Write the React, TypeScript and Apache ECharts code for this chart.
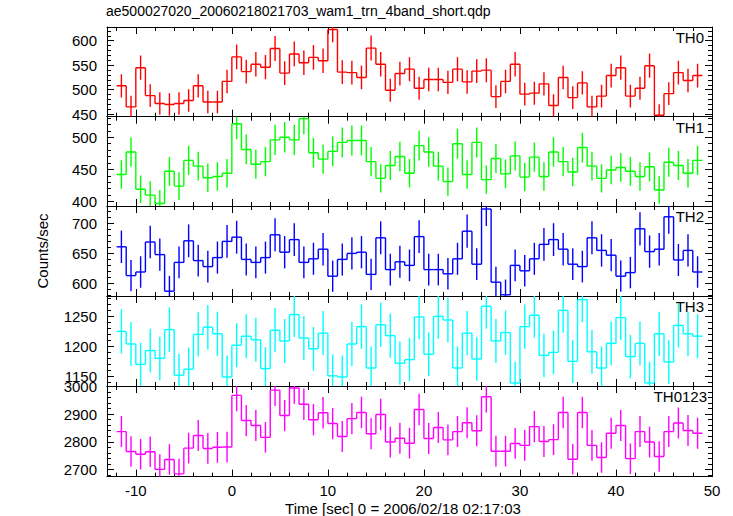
import React, { useEffect, useRef } from "react";
import * as echarts from "echarts";

// Bin centres (sec), 1-s bins from -12 to 49
const TIME: number[] = [
  -11.5, -10.5, -9.5, -8.5, -7.5, -6.5, -5.5, -4.5, -3.5, -2.5, -1.5, -0.5,
  0.5, 1.5, 2.5, 3.5, 4.5, 5.5, 6.5, 7.5, 8.5, 9.5, 10.5, 11.5, 12.5, 13.5,
  14.5, 15.5, 16.5, 17.5, 18.5, 19.5, 20.5, 21.5, 22.5, 23.5, 24.5, 25.5,
  26.5, 27.5, 28.5, 29.5, 30.5, 31.5, 32.5, 33.5, 34.5, 35.5, 36.5, 37.5,
  38.5, 39.5, 40.5, 41.5, 42.5, 43.5, 44.5, 45.5, 46.5, 47.5, 48.5,
];
const BIN_HALF_WIDTH = 0.5;

const TH0: number[] = [
  508, 465, 545, 488, 472, 470, 472, 478, 508, 475, 475, 517, 567, 537, 552,
  546, 584, 534, 573, 555, 566, 559, 623, 536, 535, 525, 585, 552, 499, 533,
  542, 503, 521, 521, 515, 542, 516, 538, 540, 486, 517, 552, 491, 493, 512,
  468, 525, 484, 514, 465, 487, 529, 545, 487, 503, 549, 448, 492, 535, 519,
  529,
];
const TH1: number[] = [
  442, 477, 419, 410, 397, 447, 424, 464, 455, 437, 439, 444, 521, 481, 458,
  462, 496, 500, 496, 529, 476, 466, 478, 492, 495, 495, 462, 436, 456, 470,
  444, 487, 477, 455, 431, 490, 442, 492, 434, 467, 443, 471, 438, 469, 439,
  477, 462, 446, 484, 455, 436, 449, 453, 447, 439, 454, 418, 461, 456, 444,
  464,
];
const TH2: number[] = [
  661, 613, 619, 669, 648, 587, 635, 671, 638, 628, 643, 670, 677, 640, 635,
  643, 681, 652, 673, 635, 641, 657, 612, 640, 650, 652, 615, 676, 623, 636,
  630, 678, 623, 623, 616, 641, 687, 632, 724, 602, 581, 630, 621, 641, 665,
  673, 657, 632, 628, 676, 655, 647, 612, 618, 691, 653, 657, 711, 639, 655,
  619,
];
const TH3: number[] = [
  1225, 1204, 1170, 1193, 1180, 1228, 1152, 1162, 1220, 1232, 1221, 1149, 1202,
  1217, 1211, 1163, 1227, 1209, 1253, 1214, 1196, 1222, 1151, 1149, 1204, 1233,
  1164, 1236, 1218, 1172, 1178, 1249, 1187, 1250, 1244, 1164, 1222, 1179, 1267,
  1209, 1223, 1139, 1233, 1252, 1185, 1190, 1260, 1175, 1278, 1191, 1164, 1205,
  1248, 1183, 1205, 1139, 1221, 1174, 1235, 1221, 1217,
];
const TH0123: number[] = [
  2837, 2765, 2755, 2764, 2700, 2736, 2684, 2777, 2823, 2776, 2780, 2781, 2968,
  2877, 2859, 2816, 2987, 2895, 2995, 2936, 2880, 2905, 2866, 2819, 2884, 2906,
  2829, 2899, 2799, 2813, 2795, 2917, 2812, 2852, 2807, 2837, 2869, 2840, 2963,
  2766, 2766, 2794, 2787, 2855, 2801, 2808, 2906, 2737, 2906, 2787, 2743, 2831,
  2859, 2739, 2837, 2799, 2747, 2837, 2868, 2841, 2831,
];
// effective exposure per bin (s); error = sqrt(rate / exposure)
const EXPOSURE = 0.9;

const PANEL_NAMES: string[] = ["TH0", "TH1", "TH2", "TH3", "TH0123"];
const PANEL_COLORS: string[] = ["#ff0000", "#00ff00", "#0000ff", "#00ffff", "#ff00ff"];
const Y_MIN: number[] = [445, 393, 579, 1134, 2674];
const Y_MAX: number[] = [628, 532, 729, 1284, 3002];
const Y_MAJOR: number[][] = [
  [450, 500, 550, 600],
  [400, 450, 500],
  [600, 650, 700],
  [1150, 1200, 1250],
  [2700, 2800, 2900, 3000],
];
const Y_MINOR_STEP: number[] = [10, 10, 10, 10, 20];
const X_MIN = -13;
const X_MAX = 50;
const X_MAJOR: number[] = [-10, 0, 10, 20, 30, 40, 50];
const X_MINOR_STEP = 2;

const TITLE = "ae500027020_20060218021703_wam1_trn_4band_short.qdp";
const X_TITLE = "Time [sec] 0 = 2006/02/18 02:17:03";
const Y_TITLE = "Counts/sec";

const FONT = "'Liberation Sans', Arial, Helvetica, sans-serif";
const GRID_TOPS = [27, 116.7, 206, 296, 386];
const GRID_BOTTOM = 476.6;
const GRID_LEFT = 107;
const GRID_RIGHT_EDGE = 712;

function stepsBetween(min: number, max: number, step: number): number[] {
  const out: number[] = [];
  for (let v = Math.ceil(min / step) * step; v <= max + 1e-9; v += step) out.push(v);
  return out;
}

export default function App() {
  const ref = useRef<HTMLDivElement>(null);
  useEffect(() => {
    if (!ref.current) return;
    const chart = echarts.init(ref.current, null, { renderer: "svg" });
    const series = [TH0, TH1, TH2, TH3, TH0123];

    const grids: any[] = [];
    const xAxes: any[] = [];
    const yAxes: any[] = [];
    const seriesList: any[] = [];
    const graphics: any[] = [];

    const lineStyle = { color: "#000", width: 1 };
    const labelStyle = {
      color: "#000",
      fontSize: 15,
      fontFamily: FONT,
      formatter: (v: number) => String(v),
    };

    for (let g = 0; g < 5; g++) {
      const top = GRID_TOPS[g];
      const bottom = g < 4 ? GRID_TOPS[g + 1] : GRID_BOTTOM;
      grids.push({
        left: GRID_LEFT,
        width: GRID_RIGHT_EDGE - GRID_LEFT,
        top,
        height: bottom - top,
        containLabel: false,
      });
      const xMinor = stepsBetween(X_MIN, X_MAX, X_MINOR_STEP);
      const isLast = g === 4;
      const xBase = (position: string, ticks: number[], len: number, showLine: boolean, showLabel: boolean) => ({
        type: "value",
        gridIndex: g,
        position,
        min: X_MIN,
        max: X_MAX,
        splitLine: { show: false },
        axisLine: { show: showLine, onZero: false, lineStyle },
        axisTick: { show: true, inside: true, length: len, customValues: ticks, lineStyle },
        axisLabel: showLabel
          ? { show: true, customValues: X_MAJOR, margin: 6, ...labelStyle }
          : { show: false },
      });
      xAxes.push(xBase("bottom", X_MAJOR, 7, true, isLast));
      xAxes.push(xBase("bottom", xMinor, 4, false, false));
      xAxes.push(xBase("top", X_MAJOR, 7, true, false));
      xAxes.push(xBase("top", xMinor, 4, false, false));

      const yMinor = stepsBetween(Y_MIN[g], Y_MAX[g], Y_MINOR_STEP[g]);
      const yBase = (position: string, ticks: number[], len: number, showLine: boolean, showLabel: boolean) => ({
        type: "value",
        gridIndex: g,
        position,
        min: Y_MIN[g],
        max: Y_MAX[g],
        splitLine: { show: false },
        axisLine: { show: showLine, onZero: false, lineStyle },
        axisTick: { show: true, inside: true, length: len, customValues: ticks, lineStyle },
        axisLabel: showLabel
          ? { show: true, customValues: Y_MAJOR[g], margin: 10, ...labelStyle }
          : { show: false },
      });
      yAxes.push(yBase("left", Y_MAJOR[g], 7, true, true));
      yAxes.push(yBase("left", yMinor, 4, false, false));
      yAxes.push(yBase("right", Y_MAJOR[g], 7, true, false));
      yAxes.push(yBase("right", yMinor, 4, false, false));

      const vals = series[g];
      const data = vals.map((v, i) => [
        TIME[i],
        v,
        Math.sqrt(v / EXPOSURE),
        i > 0 ? vals[i - 1] : v,
      ]);
      const color = PANEL_COLORS[g];
      seriesList.push({
        type: "custom",
        xAxisIndex: g * 4,
        yAxisIndex: g * 4,
        clip: true,
        encode: { x: 0, y: 1 },
        data,
        renderItem: (params: any, api: any) => {
          const x = api.value(0);
          const v = api.value(1);
          const e = api.value(2);
          const prev = api.value(3);
          const l = api.coord([x - BIN_HALF_WIDTH, v]);
          const r = api.coord([x + BIN_HALF_WIDTH, v]);
          const t = api.coord([x, v + e]);
          const b = api.coord([x, v - e]);
          const p = api.coord([x - BIN_HALF_WIDTH, prev]);
          const style = { stroke: color, lineWidth: 1.4, fill: null };
          const cs = params.coordSys;
          return {
            type: "group",
            clipPath: { type: "rect", shape: { x: cs.x, y: cs.y, width: cs.width, height: cs.height } },
            children: [
              { type: "line", shape: { x1: l[0], y1: l[1], x2: r[0], y2: r[1] }, style },
              { type: "line", shape: { x1: t[0], y1: t[1], x2: b[0], y2: b[1] }, style },
              { type: "line", shape: { x1: p[0], y1: p[1], x2: l[0], y2: l[1] }, style },
            ],
          };
        },
      });

      graphics.push({
        type: "text",
        right: 733 - (g === 4 ? 707 : 704),
        top: top + 3,
        style: {
          text: PANEL_NAMES[g],
          fill: "#000",
          fontSize: 15,
          fontFamily: FONT,
        },
      });
    }

    graphics.push({
      type: "text",
      left: 106,
      top: 4,
      style: { text: TITLE, fill: "#000", fontSize: 14, fontFamily: FONT },
    });
    graphics.push({
      type: "text",
      x: 403,
      y: 508,
      style: {
        text: X_TITLE,
        fill: "#000",
        fontSize: 15,
        fontFamily: FONT,
        align: "center",
        verticalAlign: "middle",
      },
    });
    graphics.push({
      type: "text",
      x: 42,
      y: 251,
      rotation: Math.PI / 2,
      style: {
        text: Y_TITLE,
        fill: "#000",
        fontSize: 15,
        fontFamily: FONT,
        align: "center",
        verticalAlign: "middle",
      },
    });

    chart.setOption({
      animation: false,
      backgroundColor: "#fff",
      grid: grids,
      xAxis: xAxes,
      yAxis: yAxes,
      series: seriesList,
      graphic: graphics,
    });
    return () => chart.dispose();
  }, []);

  return (
    <div
      ref={ref}
      style={{ position: "fixed", left: 0, top: 0, width: 733, height: 516 }}
    />
  );
}
